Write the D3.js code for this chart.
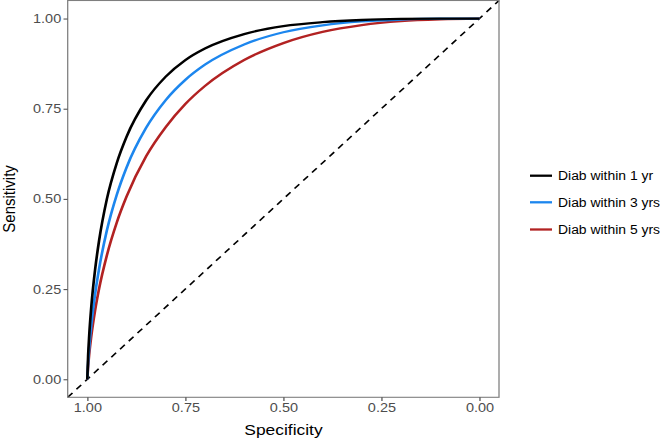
<!DOCTYPE html>
<html>
<head>
<meta charset="utf-8">
<script src="https://cdn.jsdelivr.net/npm/d3@7"></script>
<style>
  body { margin: 0; background: #fff; }
  svg { display: block; }
  text { font-family: "Liberation Sans", Arial, sans-serif; }
</style>
</head>
<body>
<div id="chart"></div>
<script>
// specificity (x, reversed) and sensitivity for each model
var specificity = [1, 0.998, 0.995, 0.99, 0.98, 0.97, 0.95, 0.925, 0.9, 0.85, 0.8, 0.75, 0.7, 0.6, 0.5, 0.4, 0.3, 0.2, 0.1, 0];
var sens1yr = [0, 0.063, 0.124, 0.199, 0.305, 0.384, 0.500, 0.599, 0.672, 0.773, 0.839, 0.885, 0.917, 0.957, 0.979, 0.990, 0.996, 0.999, 1.0, 1];
var sens3yr = [0, 0.043, 0.089, 0.148, 0.237, 0.306, 0.413, 0.511, 0.587, 0.697, 0.774, 0.830, 0.872, 0.928, 0.962, 0.981, 0.992, 0.997, 0.9995, 1];
var sens5yr = [0, 0.034, 0.071, 0.118, 0.192, 0.251, 0.344, 0.434, 0.506, 0.618, 0.699, 0.763, 0.813, 0.885, 0.932, 0.963, 0.982, 0.993, 0.998, 1];

var seriesNames = ["Diab within 1 yr", "Diab within 3 yrs", "Diab within 5 yrs"];
var seriesColors = ["#000000", "#1c86ee", "#b22222"];
var tickValues = [1, 0.75, 0.5, 0.25, 0];

(function(){
  // the reference is horizontally stretched, so draw in a narrower viewBox
  var k = 1.16;
  var W = 660 / k, H = 440;

  var svg = d3.select("#chart").append("svg")
    .attr("width", 660)
    .attr("height", 440)
    .attr("viewBox", "0 0 " + W + " " + H)
    .attr("preserveAspectRatio", "none");

  var pLeft = 67.7 / k, pRight = 499 / k, pTop = 0.5, pBottom = 397.3;

  var x = d3.scaleLinear().domain([1.05, -0.05]).range([pLeft, pRight]);
  var y = d3.scaleLinear().domain([-0.05, 1.05]).range([pBottom, pTop]);

  // dashed diagonal
  svg.append("line")
    .attr("x1", x(1.05)).attr("y1", y(-0.05))
    .attr("x2", x(-0.05)).attr("y2", y(1.05))
    .attr("stroke", "#000")
    .attr("stroke-width", 1.5)
    .attr("stroke-dasharray", "6,5");

  var line = d3.line()
    .x(function(d){ return x(d[0]); })
    .y(function(d){ return y(d[1]); })
    .curve(d3.curveMonotoneX);

  var allSens = [sens1yr, sens3yr, sens5yr];

  // draw red first so black is on top like the reference
  [2, 1, 0].forEach(function(i){
    var pts = specificity.map(function(s, j){ return [s, allSens[i][j]]; });
    svg.append("path")
      .attr("d", line(pts))
      .attr("fill", "none")
      .attr("stroke", seriesColors[i])
      .attr("stroke-width", 2.3)
      .attr("stroke-linejoin", "round");
  });

  // panel border
  svg.append("rect")
    .attr("x", pLeft).attr("y", pTop)
    .attr("width", pRight - pLeft).attr("height", pBottom - pTop)
    .attr("fill", "none")
    .attr("stroke", "#7f7f7f")
    .attr("stroke-width", 1.1);

  // y axis
  var yAxis = svg.append("g")
    .attr("transform", "translate(" + pLeft + ",0)")
    .call(d3.axisLeft(y).tickValues(tickValues).tickFormat(d3.format(".2f")).tickSize(3.6).tickPadding(2));
  yAxis.select(".domain").remove();
  yAxis.selectAll("line").attr("stroke", "#555").attr("stroke-width", 1.1);
  yAxis.selectAll("text")
    .attr("fill", "#4d4d4d")
    .attr("font-size", 12.5);

  // x axis
  var xAxis = svg.append("g")
    .attr("transform", "translate(0," + pBottom + ")")
    .call(d3.axisBottom(x).tickValues(tickValues).tickFormat(d3.format(".2f")).tickSize(3.6).tickPadding(2.5));
  xAxis.select(".domain").remove();
  xAxis.selectAll("line").attr("stroke", "#555").attr("stroke-width", 1.1);
  xAxis.selectAll("text")
    .attr("fill", "#4d4d4d")
    .attr("font-size", 12.5);

  // axis titles
  svg.append("text")
    .attr("transform", "translate(" + (283.5 / k) + ",435)")
    .attr("text-anchor", "middle")
    .attr("font-size", 15)
    .attr("fill", "#000")
    .text("Specificity");

  svg.append("text")
    .attr("transform", "translate(" + (14.6 / k) + "," + ((pTop + pBottom) / 2) + ") rotate(-90)")
    .attr("text-anchor", "middle")
    .attr("font-size", 15)
    .attr("fill", "#000")
    .text("Sensitivity");

  // legend
  var legendY = [175.7, 202.3, 229.5];
  var legend = svg.selectAll(".legend")
    .data(seriesNames).enter()
    .append("g")
    .attr("class", "legend")
    .attr("transform", function(d, i){ return "translate(0," + legendY[i] + ")"; });

  legend.append("line")
    .attr("x1", 530 / k).attr("x2", 552 / k)
    .attr("y1", 0).attr("y2", 0)
    .attr("stroke", function(d, i){ return seriesColors[i]; })
    .attr("stroke-width", 2.3);

  legend.append("text")
    .text(function(d){ return d; })
    .attr("x", 558 / k)
    .attr("y", 4.3)
    .attr("font-size", 12)
    .attr("fill", "#000");
})();
</script>
</body>
</html>
